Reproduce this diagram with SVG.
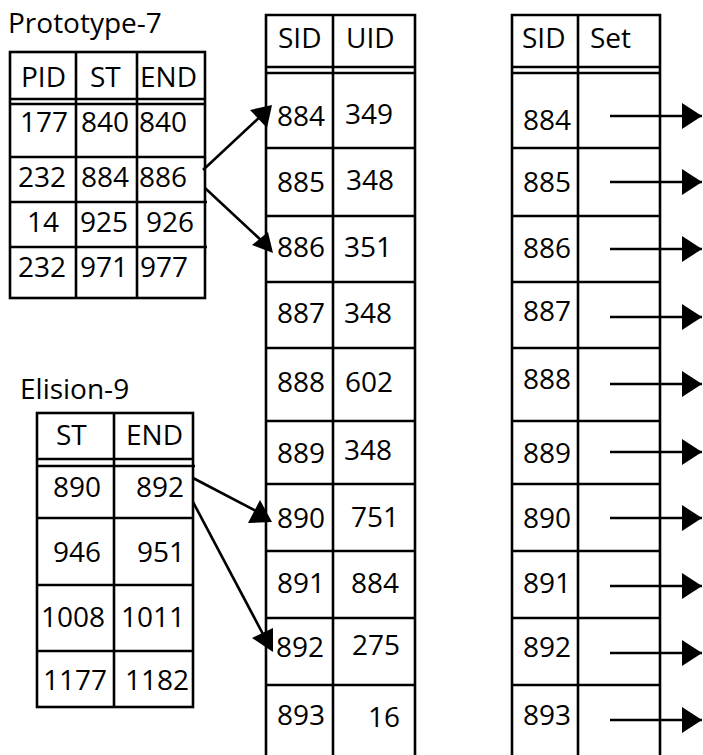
<svg xmlns="http://www.w3.org/2000/svg" width="703" height="755" viewBox="0 0 703 755">
<style>
  .ln { stroke: #000; stroke-width: 2.6; fill: none; }
  .t { font-family: "Open Sans", "Noto Sans", "Liberation Sans", sans-serif; font-size: 28px; fill: #000; }
  .conn { stroke: #000; stroke-width: 2.6; fill: none; }
  .head { fill: #000; stroke: none; }
</style>
<defs>
  <marker id="arr" markerWidth="20" markerHeight="26" refX="20" refY="13" orient="auto" markerUnits="userSpaceOnUse">
    <polygon points="0,0 20,13 0,26" fill="#000"/>
  </marker>
</defs>
<rect width="703" height="755" fill="#fff"/>

<g id="prototype-7">
  <text class="t" x="8" y="33">Prototype-7</text>
  <rect class="ln" x="10" y="52" width="195" height="246"/>
  <line class="ln" x1="76" y1="52" x2="76" y2="298"/>
  <line class="ln" x1="137" y1="52" x2="137" y2="298"/>
  <line class="ln" x1="10" y1="99" x2="205" y2="99"/>
  <line class="ln" x1="10" y1="104" x2="205" y2="104"/>
  <line class="ln" x1="10" y1="157" x2="205" y2="157"/>
  <line class="ln" x1="10" y1="202" x2="207" y2="202"/>
  <line class="ln" x1="10" y1="247" x2="207" y2="247"/>
  <text class="t" x="21" y="87">PID</text>
  <text class="t" x="90" y="87">ST</text>
  <text class="t" x="140" y="87">END</text>
  <text class="t" x="20" y="132">177</text>
  <text class="t" x="81" y="132">840</text>
  <text class="t" x="139" y="132">840</text>
  <text class="t" x="18" y="187">232</text>
  <text class="t" x="81" y="187">884</text>
  <text class="t" x="139" y="187">886</text>
  <text class="t" x="27" y="232">14</text>
  <text class="t" x="80" y="232">925</text>
  <text class="t" x="146" y="232">926</text>
  <text class="t" x="18" y="277">232</text>
  <text class="t" x="80" y="277">971</text>
  <text class="t" x="140" y="277">977</text>
</g>

<g id="elision-9">
  <text class="t" x="20" y="399">Elision-9</text>
  <rect class="ln" x="37" y="413" width="156" height="294"/>
  <line class="ln" x1="114" y1="413" x2="114" y2="707"/>
  <line class="ln" x1="37" y1="459" x2="193" y2="459"/>
  <line class="ln" x1="37" y1="466" x2="195" y2="466"/>
  <line class="ln" x1="37" y1="518" x2="193" y2="518"/>
  <line class="ln" x1="37" y1="585" x2="193" y2="585"/>
  <line class="ln" x1="37" y1="651" x2="193" y2="651"/>
  <text class="t" x="56" y="445">ST</text>
  <text class="t" x="126" y="445">END</text>
  <text class="t" x="53" y="497">890</text>
  <text class="t" x="136" y="497">892</text>
  <text class="t" x="53" y="562">946</text>
  <text class="t" x="137" y="562">951</text>
  <text class="t" x="41" y="627">1008</text>
  <text class="t" x="121" y="627">1011</text>
  <text class="t" x="43" y="690">1177</text>
  <text class="t" x="125" y="690">1182</text>
</g>

<g id="sid-uid">
  <polyline class="ln" points="266,755 266,15 415,15 415,755"/>
  <line class="ln" x1="333" y1="15" x2="333" y2="755"/>
  <line class="ln" x1="266" y1="67" x2="415" y2="67"/>
  <line class="ln" x1="266" y1="73" x2="415" y2="73"/>
  <line class="ln" x1="266" y1="148" x2="415" y2="148"/>
  <line class="ln" x1="266" y1="216" x2="415" y2="216"/>
  <line class="ln" x1="266" y1="282" x2="415" y2="282"/>
  <line class="ln" x1="266" y1="348" x2="415" y2="348"/>
  <line class="ln" x1="266" y1="421" x2="415" y2="421"/>
  <line class="ln" x1="266" y1="484" x2="415" y2="484"/>
  <line class="ln" x1="266" y1="551" x2="415" y2="551"/>
  <line class="ln" x1="266" y1="618" x2="415" y2="618"/>
  <line class="ln" x1="266" y1="685" x2="415" y2="685"/>
  <text class="t" x="278" y="48">SID</text>
  <text class="t" x="346" y="48">UID</text>
  <text class="t" x="277" y="126">884</text>
  <text class="t" x="345" y="124">349</text>
  <text class="t" x="277" y="192">885</text>
  <text class="t" x="346" y="190">348</text>
  <text class="t" x="277" y="257">886</text>
  <text class="t" x="344" y="257">351</text>
  <text class="t" x="277" y="323">887</text>
  <text class="t" x="344" y="323">348</text>
  <text class="t" x="277" y="392">888</text>
  <text class="t" x="345" y="392">602</text>
  <text class="t" x="277" y="463">889</text>
  <text class="t" x="344" y="460">348</text>
  <text class="t" x="277" y="528">890</text>
  <text class="t" x="351" y="527">751</text>
  <text class="t" x="277" y="593">891</text>
  <text class="t" x="351" y="593">884</text>
  <text class="t" x="276" y="657">892</text>
  <text class="t" x="352" y="655">275</text>
  <text class="t" x="277" y="725">893</text>
  <text class="t" x="368" y="727">16</text>
</g>

<g id="sid-set">
  <polyline class="ln" points="512,755 512,15 660,15 660,755"/>
  <line class="ln" x1="578" y1="15" x2="578" y2="755"/>
  <line class="ln" x1="512" y1="67" x2="660" y2="67"/>
  <line class="ln" x1="512" y1="73" x2="660" y2="73"/>
  <line class="ln" x1="512" y1="148" x2="660" y2="148"/>
  <line class="ln" x1="512" y1="216" x2="660" y2="216"/>
  <line class="ln" x1="512" y1="282" x2="660" y2="282"/>
  <line class="ln" x1="512" y1="348" x2="660" y2="348"/>
  <line class="ln" x1="512" y1="421" x2="660" y2="421"/>
  <line class="ln" x1="512" y1="484" x2="660" y2="484"/>
  <line class="ln" x1="512" y1="551" x2="660" y2="551"/>
  <line class="ln" x1="512" y1="618" x2="660" y2="618"/>
  <line class="ln" x1="512" y1="685" x2="660" y2="685"/>
  <text class="t" x="522" y="48">SID</text>
  <text class="t" x="590" y="48">Set</text>
  <text class="t" x="523" y="130">884</text>
  <text class="t" x="523" y="192">885</text>
  <text class="t" x="523" y="258">886</text>
  <text class="t" x="523" y="321">887</text>
  <text class="t" x="523" y="389">888</text>
  <text class="t" x="523" y="463">889</text>
  <text class="t" x="523" y="528">890</text>
  <text class="t" x="523" y="593">891</text>
  <text class="t" x="523" y="657">892</text>
  <text class="t" x="523" y="725">893</text>
</g>

<g id="connectors">
  <line class="conn" x1="203" y1="170" x2="262" y2="115"/>
  <polygon class="head" points="250,110 272,105 267,128"/>
  <line class="conn" x1="205" y1="188" x2="263" y2="242"/>
  <polygon class="head" points="252,245 268,232 273,253"/>
  <line class="conn" x1="193" y1="478" x2="258" y2="512"/>
  <polygon class="head" points="248,523 260,500 272,522"/>
  <line class="conn" x1="193" y1="502" x2="264" y2="636"/>
  <polygon class="head" points="252,638 273,628 273,652"/>

  <line class="conn" x1="610" y1="116" x2="702" y2="116" marker-end="url(#arr)"/>
  <line class="conn" x1="610" y1="182" x2="702" y2="182" marker-end="url(#arr)"/>
  <line class="conn" x1="610" y1="249" x2="702" y2="249" marker-end="url(#arr)"/>
  <line class="conn" x1="610" y1="317" x2="702" y2="317" marker-end="url(#arr)"/>
  <line class="conn" x1="610" y1="384" x2="702" y2="384" marker-end="url(#arr)"/>
  <line class="conn" x1="610" y1="452" x2="702" y2="452" marker-end="url(#arr)"/>
  <line class="conn" x1="610" y1="518" x2="702" y2="518" marker-end="url(#arr)"/>
  <line class="conn" x1="610" y1="586" x2="702" y2="586" marker-end="url(#arr)"/>
  <line class="conn" x1="610" y1="653" x2="702" y2="653" marker-end="url(#arr)"/>
  <line class="conn" x1="610" y1="720" x2="702" y2="720" marker-end="url(#arr)"/>
</g>
</svg>
